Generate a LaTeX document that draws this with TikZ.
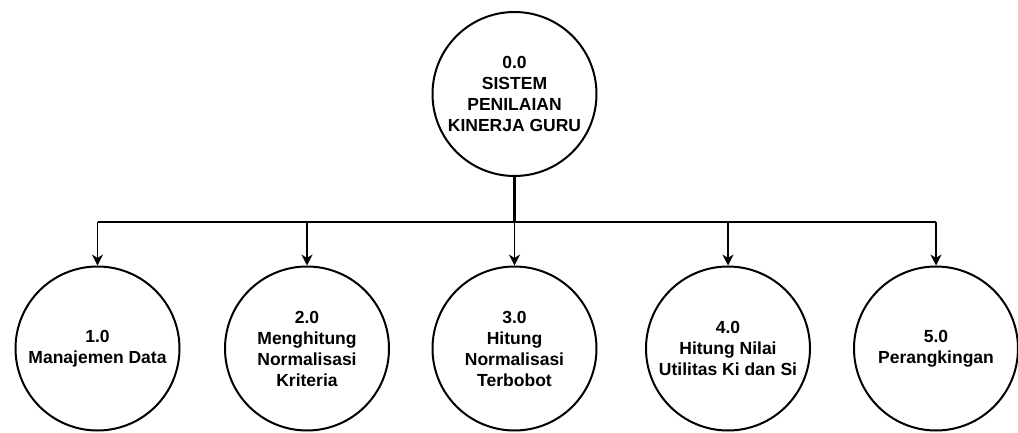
\documentclass[tikz,border=0pt]{standalone}
\usepackage{fontspec}
\setmainfont{Liberation Sans}
\usetikzlibrary{arrows.meta}
\begin{document}
\begin{tikzpicture}[x=1pt,y=1pt,
  proc/.style={circle,draw=black,line width=2pt,minimum size=164pt,inner sep=0pt,
    align=center,font=\fontsize{17.5}{21}\selectfont\bfseries,text=black},
  link/.style={draw=black,line width=1.4pt},
  arr/.style={link,-{Stealth[length=11pt,width=11pt,inset=3.5pt]}},
  stem/.style={draw=black,line width=3pt}]
\useasboundingbox (0,0) rectangle (1018,432);
\node[proc] (top) at (514.5,338) {0.0\\SISTEM\\PENILAIAN\\KINERJA GURU};
\node[proc] (c1) at (97.5,83.5) {1.0\\Manajemen Data};
\node[proc] (c2) at (307,83.5) {2.0\\Menghitung\\Normalisasi\\Kriteria};
\node[proc] (c3) at (514.5,83.5) {3.0\\Hitung\\Normalisasi\\Terbobot};
\node[proc] (c4) at (728,83.5) {4.0\\Hitung Nilai\\Utilitas Ki dan Si};
\node[proc] (c5) at (936,83.5) {5.0\\Perangkingan};
\coordinate (j) at (514.5,210);
\draw[stem] (top.south) -- (j);
\draw[link] (c1.north |- j) -- (c5.north |- j);
\foreach \c in {c1,c2,c3,c4,c5}
  \draw[arr] (\c.north |- j) -- (\c.north);
\end{tikzpicture}
\end{document}
